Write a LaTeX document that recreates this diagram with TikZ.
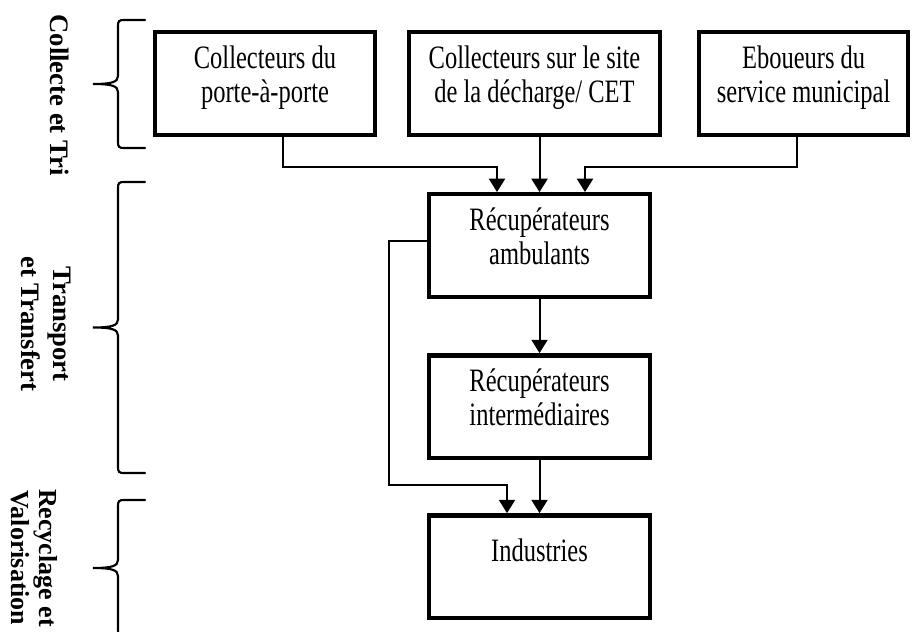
\documentclass[tikz,border=0pt]{standalone}
\usepackage{fontspec}
\setmainfont{Liberation Serif}[FakeStretch=0.75]
\newfontfamily\etapefont{Liberation Serif}
\usetikzlibrary{positioning,arrows.meta}

\newcommand{\accolade}[2]{%
  \draw [line width=1.6pt, line cap=round]
    (145,#1) -- (124,#1) .. controls (119,#1) and (118,{#1+1}) .. (118,{#1+6})
    -- (118,{(#1+#2)/2-8}) .. controls (118,{(#1+#2)/2-2}) and (112,{(#1+#2)/2}) .. (93,{(#1+#2)/2})
    .. controls (112,{(#1+#2)/2}) and (118,{(#1+#2)/2+2}) .. (118,{(#1+#2)/2+8})
    -- (118,{#2-6}) .. controls (118,{#2-1}) and (119,#2) .. (124,#2) -- (145,#2);}

\begin{document}
\begin{tikzpicture}[%
        x=0.75pt, y=-0.75pt,
        bloc/.style={rectangle, draw, line width=3.3pt, minimum height=77pt, inner sep=0pt,
          align=center, font=\fontsize{24.5pt}{25.5pt}\selectfont, text depth=14.7pt},
        etape/.style={rotate=-90, align=center, font=\etapefont\bfseries\fontsize{20pt}{24pt}\selectfont},
        fleche/.style={->, line width=1.5pt},
        >={Triangle[width=12pt,length=10pt]}
      ]
      \useasboundingbox (0,0) rectangle (912,631);
      % collecte
      \node [bloc, minimum width=164.7pt] (c1) at (265,83.5) {Collecteurs du\\porte-à-porte};
      \node [bloc, minimum width=188pt, right=22.5pt of c1] (c2) {Collecteurs sur le site\\de la décharge/ CET};
      \node [bloc, minimum width=156.5pt, right=26.25pt of c2] (c3) {Eboueurs du\\service municipal};
      % transport
      \node [bloc, minimum width=165.5pt, below=41.25pt of c2, xshift=3.75pt] (amb) {Récupérateurs\\ambulants};
      \node [bloc, minimum width=165.5pt, below=40.5pt of amb] (int) {Récupérateurs\\intermédiaires};
      % recyclage
      \node [bloc, minimum width=165.5pt, below=39.75pt of int, text depth=25pt] (ind) {Industries};

      \draw [fleche] ([xshift=13.5pt]c1.south) -- ++(0,30) -| ([xshift=-31.9pt]amb.north);
      \draw [fleche] (amb.north |- c2.south) -- (amb.north);
      \draw [fleche] ([xshift=-4.9pt]c3.south) -- ++(0,30) -| ([xshift=34.1pt]amb.north);
      \draw [fleche] (amb.south) -- (int.north);
      \draw [fleche] (int.south) -- (ind.north);
      \draw [fleche] ([yshift=3.4pt]amb.west) -- ++(-38,0)
        |- ([xshift=-24.4pt,yshift=21pt]ind.north) -- ([xshift=-24.4pt]ind.north);

      % etapes
      \accolade{20}{148}
      \accolade{182}{473}
      \accolade{500}{636}
      \node [etape] (collecte) at (60,95) {Collecte et Tri};
      \node [etape] (transport) at (46,324) {Transport\\et Transfert};
      \node [etape, font=\etapefont\bfseries\fontsize{19.5pt}{21pt}\selectfont] (recyclage) at (34,558) {Recyclage et\\Valorisation};
\end{tikzpicture}
\end{document}
